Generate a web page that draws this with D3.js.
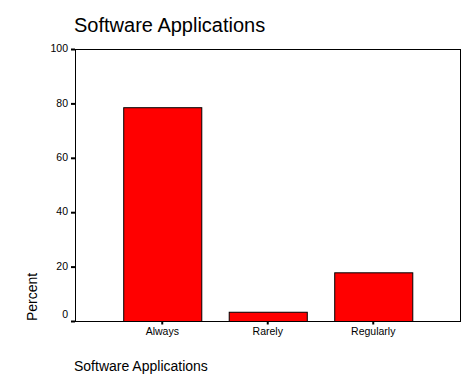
<!DOCTYPE html>
<html><head><meta charset="utf-8">
<script src="https://cdn.jsdelivr.net/npm/d3@7"></script>
<style>body{margin:0;background:#fff}svg{display:block}text{font-family:"Liberation Sans",Arial,sans-serif;fill:#000}</style>
</head><body>
<script>
const categories = ["Always", "Rarely", "Regularly"];
const percents = [78.6, 3.4, 17.9];
const yTicks = [0, 20, 40, 60, 80, 100];

const W = 476, H = 389;
const L = 75, R = 460, T = 49, B = 321;
const svg = d3.select("body").append("svg").attr("width", W).attr("height", H);

const x = d3.scaleBand().domain(categories).range([109.5, 426]).paddingInner(0.26).paddingOuter(0.13);
const y = d3.scaleLinear().domain([0, 100]).range([B, T]);

// bars
svg.append("g").selectAll("rect").data(categories).join("rect")
  .attr("x", d => x(d) + 0.5)
  .attr("y", (d, i) => y(percents[i]) + 0.5)
  .attr("width", x.bandwidth())
  .attr("height", (d, i) => y(0) - y(percents[i]))
  .attr("fill", "#ff0000").attr("stroke", "#000").attr("stroke-width", 1);

// frame
svg.append("rect").attr("x", L + 0.5).attr("y", T + 0.5).attr("width", R - L).attr("height", B - T)
  .attr("fill", "none").attr("stroke", "#000").attr("stroke-width", 1);

// y axis
const ya = svg.append("g").attr("transform", `translate(${L},0)`)
  .call(d3.axisLeft(y).tickValues(yTicks).tickSize(4).tickPadding(3));
ya.select(".domain").remove();
ya.selectAll(".tick line").attr("stroke-width", 2).attr("stroke", "#000");
ya.selectAll(".tick text").style("font-family", '"Liberation Sans",Arial,sans-serif').style("font-size", "10.5px").attr("fill", "#000")
  .attr("dy", d => d === 0 ? "-0.35em" : "0.25em");

// x axis
const xa = svg.append("g").attr("transform", `translate(0,${B + 0.5})`)
  .call(d3.axisBottom(x).tickSize(3).tickPadding(3));
xa.select(".domain").remove();
xa.selectAll(".tick line").attr("stroke-width", 2).attr("stroke", "#000");
xa.selectAll(".tick text").style("font-family", '"Liberation Sans",Arial,sans-serif').style("font-size", "10.5px").attr("fill", "#000");

// titles
svg.append("text").attr("x", 74).attr("y", 32).style("font-size", "20px").text("Software Applications");
svg.append("text").attr("x", 74).attr("y", 371).style("font-size", "14px").text("Software Applications");
svg.append("text").attr("transform", "translate(36.5,321) rotate(-90)").style("font-size", "14px").text("Percent");
</script>
</body></html>
